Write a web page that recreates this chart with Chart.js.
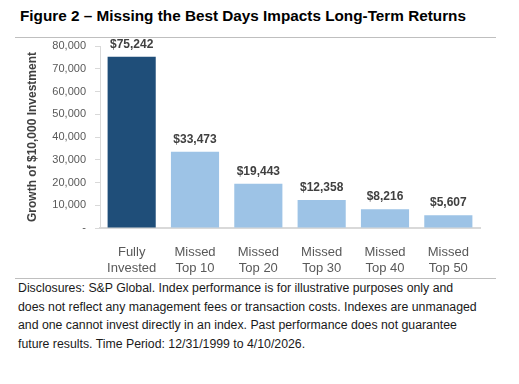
<!DOCTYPE html>
<html>
<head>
<meta charset="utf-8">
<script src="https://cdn.jsdelivr.net/npm/chart.js@4.4.1/dist/chart.umd.min.js"></script>
<style>
  html, body { margin: 0; padding: 0; background: #ffffff; }
  body { width: 519px; height: 384px; position: relative; overflow: hidden; font-family: "Liberation Sans", Arial, sans-serif; }
  #title { position: absolute; left: 20px; top: 7px; font-size: 15.3px; font-weight: bold; color: #000; white-space: nowrap; letter-spacing: 0px; }
  .rule { position: absolute; left: 15px; width: 481px; height: 1px; background: #bfbfbf; }
  #wrap { position: absolute; left: 0; top: 30px; width: 519px; height: 245px; }
  #notes { position: absolute; left: 18px; top: 279px; font-size: 12.3px; line-height: 18.6px; color: #1a1a1a; white-space: nowrap; }
</style>
</head>
<body>
<div id="title">Figure 2 – Missing the Best Days Impacts Long-Term Returns</div>
<div class="rule" style="top:37px"></div>
<div id="wrap"><canvas id="c"></canvas></div>
<div class="rule" style="top:278px"></div>
<div id="notes">Disclosures: S&amp;P Global. Index performance is for illustrative purposes only and<br>does not reflect any management fees or transaction costs. Indexes are unmanaged<br>and one cannot invest directly in an index. Past performance does not guarantee<br>future results. Time Period: 12/31/1999 to 4/10/2026.</div>
<script>
const categories = [["Fully", "Invested"], ["Missed", "Top 10"], ["Missed", "Top 20"], ["Missed", "Top 30"], ["Missed", "Top 40"], ["Missed", "Top 50"]];
const growthValues = [75242, 33473, 19443, 12358, 8216, 5607];
const yTickValues = [0, 10000, 20000, 30000, 40000, 50000, 60000, 70000, 80000];
const yAxisTitle = "Growth of $10,000 Investment";

const barColors = growthValues.map((v, i) => i === 0 ? '#1F4E79' : '#9DC3E6');

const valueLabels = {
  id: 'valueLabels',
  afterDatasetsDraw(chart) {
    const ctx = chart.ctx;
    const meta = chart.getDatasetMeta(0);
    ctx.save();
    ctx.font = 'bold 12px "Liberation Sans", Arial, sans-serif';
    ctx.fillStyle = '#404040';
    ctx.textAlign = 'center';
    ctx.textBaseline = 'middle';
    meta.data.forEach((bar, i) => {
      const v = growthValues[i];
      ctx.fillText('$' + v.toLocaleString('en-US'), bar.x, bar.y - 12.5);
    });
    ctx.restore();
  }
};

new Chart(document.getElementById('c'), {
  type: 'bar',
  data: {
    labels: categories,
    datasets: [{
      data: growthValues,
      backgroundColor: barColors,
      borderWidth: 0,
      barPercentage: 0.76,
      categoryPercentage: 1.0
    }]
  },
  options: {
    responsive: true,
    maintainAspectRatio: false,
    animation: false,
    devicePixelRatio: 1,
    layout: { padding: { left: 0, right: 39, top: 16, bottom: 0 } },
    plugins: { legend: { display: false }, tooltip: { enabled: false } },
    scales: {
      x: {
        afterFit(s) { s.height = 47; },
        grid: { display: false },
        border: { display: true, color: '#d9d9d9', width: 2 },
        ticks: {
          color: '#595959',
          font: { family: '"Liberation Sans", Arial, sans-serif', size: 13 },
          padding: 9,
          maxRotation: 0,
          autoSkip: false
        }
      },
      y: {
        min: 0,
        max: 80000,
        afterFit(s) { s.width = 100; },
        afterBuildTicks(s) { s.ticks = yTickValues.map(v => ({ value: v })); },
        border: { display: true, color: '#d9d9d9', width: 1 },
        grid: { drawOnChartArea: false, drawTicks: true, tickLength: 5, color: '#d9d9d9' },
        ticks: {
          color: '#595959',
          font: { family: '"Liberation Sans", Arial, sans-serif', size: 11 },
          padding: 9,
          callback: (v) => v === 0 ? '-' : Number(v).toLocaleString('en-US')
        },
        title: {
          display: true,
          text: yAxisTitle,
          color: '#404040',
          font: { family: '"Liberation Sans", Arial, sans-serif', size: 12, weight: 'bold' },
          padding: { top: 25, bottom: 0 }
        }
      }
    }
  },
  plugins: [valueLabels]
});
</script>
</body>
</html>
